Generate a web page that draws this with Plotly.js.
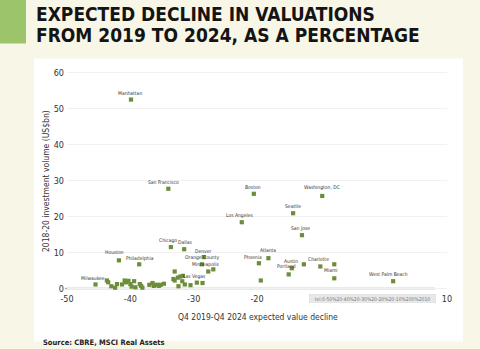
<!DOCTYPE html>
<html><head><meta charset="utf-8">
<script src="https://cdn.plot.ly/plotly-3.0.1.min.js"></script>
<style>html,body{margin:0;padding:0;background:#f8f6e7;}</style>
</head><body><div id="chart" style="width:480px;height:349px;"></div>
<script>
// ---- data ----
const labeledCities = ['Manhattan','San Francisco','Boston','Washington, DC','Seattle','Los Angeles','San Jose',
  'Atlanta','Phoenix','Austin','Portland','Charlotte','Miami','West Palm Beach','Chicago','Dallas','Houston',
  'Philadelphia','Milwaukee','Denver','Orange County','Minneapolis','Las Vegas'];
const labeledX = [-39.9,-34.0,-20.5,-9.7,-14.3,-22.4,-12.9,-18.2,-19.7,-14.5,-15.0,-10.0,-7.8,1.5,-33.6,-31.5,
  -41.8,-38.6,-45.5,-28.4,-28.7,-27.7,-30.5];
const labeledY = [52.5,27.7,26.3,25.7,20.9,18.4,14.8,8.4,7.0,5.6,3.9,6.1,2.8,2.0,11.5,10.9,7.8,6.7,1.1,8.7,6.7,4.7,0.9];
const otherX = [-43.7,-43.5,-43.0,-42.4,-42.1,-41.3,-40.9,-40.7,-40.3,-40.0,-39.8,-39.4,-39.2,-38.5,-38.3,-38.1,
  -37.0,-36.5,-36.3,-36.1,-35.7,-35.5,-35.2,-34.7,-33.2,-33.0,-33.0,-32.5,-32.1,-31.7,-32.4,-31.8,-31.4,-29.5,
  -28.6,-26.9,-19.4,-12.6,-7.8];
const otherY = [2.2,1.7,0.6,0.2,1.2,1.1,2.2,1.7,2.1,1.2,0.5,2.0,0.3,1.2,0.7,0.2,1.0,1.5,0.7,1.0,1.0,0.7,1.0,1.3,
  2.6,2.2,4.7,3.0,3.3,3.5,0.6,2.0,1.1,1.6,1.5,5.3,2.2,6.7,6.7];
const xTicks = [-50,-40,-30,-20,-10,0,10];
const yTicks = [0,10,20,30,40,50,60];

// label offsets in pixels (styling only)
const labelDX = [-1,-5,-1,0,0,-2,-1,0,-6,-1,-2,-2,-3,-5,-3,1,-4,1,-3,0,0,-3,4];
const labelDY = [7,7,7,8,7,7,7,8,6,7,8,7,8,7,7,7,8,6,6,6,7,7,9];

// ---- layout geometry ----
const W=480,H=349,L=67,R=33,T=69.4,B=57.4;
const PW=W-L-R, PH=H-T-B;
const px = v => (v-L)/PW;
const py = v => (H-B-v)/PH;

const COND = "'DejaVu Sans Condensed','DejaVu Sans',sans-serif";
const BOLD = "'DejaVu Sans Condensed','DejaVu Sans',sans-serif";
const mk = {symbol:'square', size:4.2, color:'#6d8d3c'};

const traces = [
  {x: otherX, y: otherY, type:'scatter', mode:'markers', marker: mk, cliponaxis:false, hoverinfo:'skip'},
  {x: labeledX, y: labeledY, text: labeledCities, type:'scatter', mode:'markers', marker: mk, cliponaxis:false}
];

const annotations = labeledCities.map((c,i)=>({
  x: labeledX[i], y: labeledY[i], xref:'x', yref:'y', text:c, showarrow:false,
  xshift: labelDX[i], yshift: labelDY[i], xanchor:'center', yanchor:'middle',
  font:{family:COND, size:5, color:'#333'}
}));
annotations.push(
  {xref:'paper', yref:'paper', x:px(34), y:py(15), xanchor:'left', yanchor:'middle', showarrow:false,
   text:'<b>EXPECTED DECLINE IN VALUATIONS</b>', font:{family:BOLD, size:19, color:'#141414'}},
  {xref:'paper', yref:'paper', x:px(34), y:py(36), xanchor:'left', yanchor:'middle', showarrow:false,
   text:'<b>FROM 2019 TO 2024, AS A PERCENTAGE</b>', font:{family:BOLD, size:19, color:'#141414'}},
  {xref:'paper', yref:'paper', x:px(46), y:py(181), xanchor:'center', yanchor:'middle', showarrow:false,
   textangle:-90, text:'2018-20 investment volume (US$bn)', font:{family:COND, size:8.5, color:'#333'}},
  {xref:'paper', yref:'paper', x:px(258), y:py(317), xanchor:'center', yanchor:'middle', showarrow:false,
   text:'Q4 2019-Q4 2024 expected value decline', font:{family:COND, size:8.5, color:'#333'}},
  {xref:'paper', yref:'paper', x:px(41), y:py(342), xanchor:'left', yanchor:'middle', showarrow:false,
   text:'<b>Source: CBRE, MSCI Real Assets</b>', font:{family:COND, size:7.5, color:'#222'}},
  {xref:'paper', yref:'paper', x:px(372), y:py(298), xanchor:'center', yanchor:'middle', showarrow:false,
   text:'tel:0-50%20-40%20-30%20-20%20-10%200%2010', width:126, height:8,
   bgcolor:'#e8e8e8', bordercolor:'#dcdcdc', borderwidth:0.5, borderpad:0,
   font:{family:COND, size:5, color:'#777'}}
);

const layout = {
  width:W, height:H, margin:{l:L, r:R, t:T, b:B, pad:0},
  paper_bgcolor:'#f8f6e7', plot_bgcolor:'#ffffff', showlegend:false,
  xaxis:{range:[-50,10], tickvals:xTicks, ticktext:xTicks.map(String), showgrid:false, zeroline:false,
    showline:false, ticks:'', tickfont:{family:COND, size:9, color:'#333'}, fixedrange:true},
  yaxis:{range:[-1,61], tickvals:yTicks, showgrid:true, gridcolor:'#f1f1f1', gridwidth:1, zeroline:false,
    showline:false, ticks:'', ticklabelstandoff:2, tickfont:{family:COND, size:9, color:'#333'}, fixedrange:true},
  shapes:[
    {type:'rect', xref:'paper', yref:'paper', x0:px(34), x1:px(463), y0:py(341), y1:py(59),
     fillcolor:'#ffffff', line:{width:0}, layer:'below'},
    {type:'rect', xref:'paper', yref:'paper', x0:px(0), x1:px(26), y0:py(44), y1:py(0),
     fillcolor:'#9cc46a', line:{width:0}, layer:'below'},
    {type:'line', xref:'paper', yref:'y', x0:px(65), x1:px(435), y0:0, y1:0,
     line:{color:'#aaaaaa', width:1.5}, layer:'below'}
  ],
  annotations: annotations
};
Plotly.newPlot('chart', traces, layout, {displayModeBar:false, staticPlot:true});
</script></body></html>
